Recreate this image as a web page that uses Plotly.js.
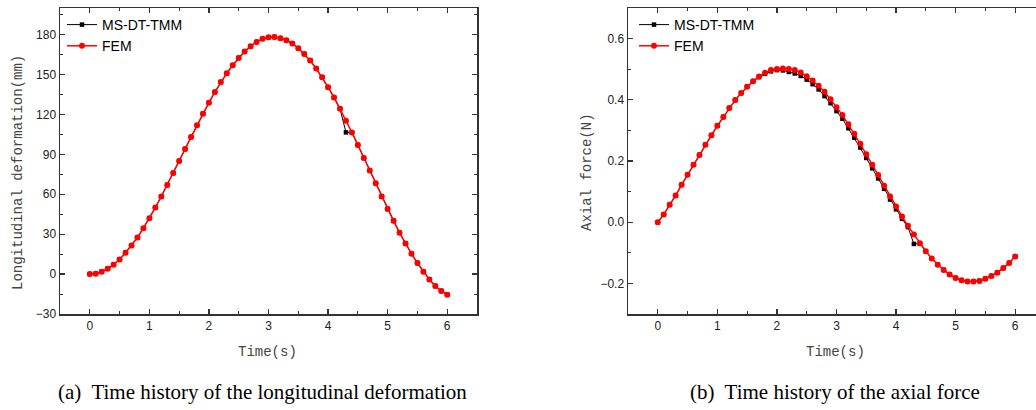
<!DOCTYPE html>
<html>
<head>
<meta charset="utf-8">
<script src="https://cdn.plot.ly/plotly-3.0.1.min.js"></script>
<style>
html,body{margin:0;padding:0;background:#fff;}
#chart{width:1036px;height:410px;}
</style>
</head>
<body>
<div id="chart"></div>
<script>
var time = [0,0.1,0.2,0.3,0.4,0.5,0.6,0.7,0.8,0.9,1.0,1.1,1.2,1.3,1.4,1.5,1.6,1.7,1.8,1.9,2.0,2.1,2.2,2.3,2.4,2.5,2.6,2.7,2.8,2.9,3.0,3.1,3.2,3.3,3.4,3.5,3.6,3.7,3.8,3.9,4.0,4.1,4.2,4.3,4.4,4.5,4.6,4.7,4.8,4.9,5.0,5.1,5.2,5.3,5.4,5.5,5.6,5.7,5.8,5.9,6.0];

var deformFEM = [0,0.3,1.8,4,7,11,16,21.5,27.5,34.5,42,50,58.3,67,76,85,94,103,111.8,120.5,128.8,136.8,144.3,151,157,162.5,167.3,171.3,174.5,176.8,178,178.2,177.3,175.8,173.3,169.8,165.5,160.5,154.5,148,140.5,132.8,124.3,115.3,106.5,97,87.3,77.8,68.3,58.3,49,40,31,23,15.3,8.3,1.8,-4,-9,-12.7,-15.5];
var deformMS = [0,0.3,1.8,4,7,11,16,21.5,27.5,34.5,42,50,58.3,67,76,85,94,103,111.8,120.5,128.8,136.8,144.3,151,157,162.5,167.3,171.3,174.5,176.8,178,178.2,177.3,175.8,173.3,169.8,165.5,160.5,154.5,148,140.5,132.8,124.3,106.5,106.5,97,87.3,77.8,68.3,58.3,49,40,31,23,15.3,8.3,1.8,-4,-9,-12.7,-15.5];

var forceFEM = [0,0.025,0.057,0.087,0.122,0.155,0.188,0.220,0.253,0.284,0.315,0.344,0.373,0.399,0.422,0.443,0.461,0.476,0.488,0.497,0.501,0.502,0.501,0.497,0.489,0.477,0.463,0.446,0.426,0.402,0.376,0.350,0.320,0.289,0.256,0.222,0.188,0.154,0.119,0.084,0.051,0.019,-0.012,-0.040,-0.069,-0.095,-0.119,-0.139,-0.156,-0.171,-0.182,-0.190,-0.194,-0.194,-0.192,-0.185,-0.176,-0.165,-0.150,-0.133,-0.112];
var forceMS = [0,0.025,0.057,0.087,0.122,0.155,0.188,0.220,0.253,0.284,0.315,0.344,0.373,0.399,0.422,0.443,0.461,0.474,0.485,0.493,0.497,0.496,0.491,0.486,0.478,0.466,0.451,0.434,0.412,0.389,0.363,0.338,0.307,0.276,0.244,0.210,0.176,0.143,0.109,0.074,0.042,0.011,-0.016,-0.071,-0.070,-0.095,-0.119,-0.139,-0.156,-0.171,-0.182,-0.190,-0.194,-0.194,-0.192,-0.185,-0.176,-0.165,-0.150,-0.133,-0.112];

var seriesNames = ['MS-DT-TMM','FEM'];
var xTicks = [0,1,2,3,4,5,6];
var yTicksLeft = [-30,0,30,60,90,120,150,180];
var yTicksRight = [-0.2,0.0,0.2,0.4,0.6];
var xTitle = 'Time(s)';
var yTitleLeft = 'Longitudinal deformation(mm)';
var yTitleRight = 'Axial force(N)';
var captionA = '(a)  Time history of the longitudinal deformation';
var captionB = '(b)  Time history of the axial force';

var W = 1036, H = 410;
var msStyle = {mode:'lines+markers', line:{color:'#000000', width:1}, marker:{symbol:'square', size:4.5, color:'#000000'}};
var femStyle = {mode:'lines+markers', line:{color:'#ff0000', width:1.5}, marker:{symbol:'circle', size:6, color:'#ff0000'}};

function tr(x, y, name, style, xa, ya, lg){
  return Object.assign({x:x, y:y, name:name, xaxis:xa, yaxis:ya, legend:lg, type:'scatter'}, JSON.parse(JSON.stringify(style)));
}
var data = [
  tr(time, deformMS, seriesNames[0], msStyle, 'x', 'y', 'legend'),
  tr(time, deformFEM, seriesNames[1], femStyle, 'x', 'y', 'legend'),
  tr(time, forceMS, seriesNames[0], msStyle, 'x2', 'y2', 'legend2'),
  tr(time, forceFEM, seriesNames[1], femStyle, 'x2', 'y2', 'legend2')
];

var tickFont = {family:'Liberation Sans, Arial, sans-serif', size:12, color:'#222'};
var axCommon = {
  showline:true, linecolor:'#333', linewidth:1.5, ticks:'inside', ticklen:5, tickwidth:1.2, tickcolor:'#333',
  showgrid:false, zeroline:false, tickfont:tickFont
};
var yDom = [(H-314)/H, (H-8)/H];
var legFont = {family:'Liberation Sans, Arial, sans-serif', size:14, color:'#000'};

var layout = {
  width:W, height:H, margin:{l:0, r:0, t:0, b:0},
  paper_bgcolor:'#fff', plot_bgcolor:'#fff',
  xaxis: Object.assign({}, axCommon, {domain:[60/W, 477/W], range:[-0.5,6.5], tickvals:xTicks, mirror:'ticks', anchor:'y',
    minor:{ticks:'inside', ticklen:3, dtick:0.5, tick0:0, tickcolor:'#333', tickwidth:1}}),
  yaxis: Object.assign({}, axCommon, {domain:yDom, range:[-30,200], tickvals:yTicksLeft, mirror:'ticks', anchor:'x',
    minor:{ticks:'inside', ticklen:3, dtick:15, tick0:0, tickcolor:'#333', tickwidth:1}}),
  xaxis2: Object.assign({}, axCommon, {domain:[628/W, 1], range:[-0.5,6.35], tickvals:xTicks, mirror:'ticks', anchor:'y2',
    minor:{ticks:'inside', ticklen:3, dtick:0.5, tick0:0, tickcolor:'#333', tickwidth:1}}),
  yaxis2: Object.assign({}, axCommon, {domain:yDom, range:[-0.3,0.7], tickvals:yTicksRight, tickformat:'.1f', mirror:false, anchor:'x2',
    minor:{ticks:'inside', ticklen:3, dtick:0.1, tick0:0, tickcolor:'#333', tickwidth:1}}),
  showlegend:true,
  legend:{x:62/W, y:1-9/H, xanchor:'left', yanchor:'top', bgcolor:'rgba(0,0,0,0)', borderwidth:0,
    font:legFont, tracegroupgap:0, itemwidth:30},
  legend2:{x:634/W, y:1-9/H, xanchor:'left', yanchor:'top', bgcolor:'rgba(0,0,0,0)', borderwidth:0,
    font:legFont, tracegroupgap:0, itemwidth:30},
  annotations:[
    {xref:'paper', yref:'paper', x:18/W, y:1-173/H, text:yTitleLeft, textangle:-90, showarrow:false,
      font:{family:'Liberation Mono, monospace', size:14, color:'#444'}, xanchor:'center', yanchor:'middle'},
    {xref:'paper', yref:'paper', x:587/W, y:1-172/H, text:yTitleRight, textangle:-90, showarrow:false,
      font:{family:'Liberation Mono, monospace', size:14, color:'#444'}, xanchor:'center', yanchor:'middle'},
    {xref:'paper', yref:'paper', x:267/W, y:1-352/H, text:xTitle, showarrow:false,
      font:{family:'Liberation Mono, monospace', size:14, color:'#444'}, xanchor:'center', yanchor:'middle'},
    {xref:'paper', yref:'paper', x:835/W, y:1-352/H, text:xTitle, showarrow:false,
      font:{family:'Liberation Mono, monospace', size:14, color:'#444'}, xanchor:'center', yanchor:'middle'},
    {xref:'paper', yref:'paper', x:262/W, y:1-392/H, text:captionA, showarrow:false,
      font:{family:'Liberation Serif, Times New Roman, serif', size:21, color:'#000'}, xanchor:'center', yanchor:'middle'},
    {xref:'paper', yref:'paper', x:835/W, y:1-392/H, text:captionB, showarrow:false,
      font:{family:'Liberation Serif, Times New Roman, serif', size:21, color:'#000'}, xanchor:'center', yanchor:'middle'}
  ]
};

Plotly.newPlot('chart', data, layout, {staticPlot:true, displayModeBar:false});
</script>
</body>
</html>
